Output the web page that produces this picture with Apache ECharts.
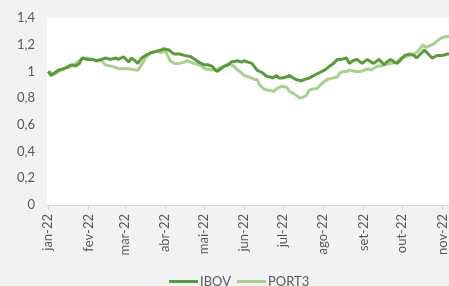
<!DOCTYPE html>
<html><head><meta charset="utf-8">
<script src="https://cdn.jsdelivr.net/npm/echarts@6/dist/echarts.min.js"></script>
<style>html,body{margin:0;padding:0;background:#f2f2f2}#c{width:449px;height:286px}</style>
</head><body><div id="c"></div>
<script>
const monthNames = ['jan','fev','mar','abr','mai','jun','jul','ago','set','out','nov','dez'];
const yTicks = [0, 0.2, 0.4, 0.6, 0.8, 1, 1.2, 1.4];

const ibovDates = ['2022-01-01','2022-01-03','2022-01-06','2022-01-09','2022-01-13','2022-01-17','2022-01-19','2022-01-22','2022-01-25','2022-01-27','2022-01-31','2022-02-04','2022-02-07','2022-02-11','2022-02-14','2022-02-18','2022-02-22','2022-02-24','2022-02-28','2022-03-04','2022-03-06','2022-03-09','2022-03-11','2022-03-14','2022-03-17','2022-03-21','2022-03-25','2022-03-29','2022-03-31','2022-04-04','2022-04-08','2022-04-12','2022-04-16','2022-04-21','2022-04-24','2022-04-27','2022-05-01','2022-05-04','2022-05-07','2022-05-09','2022-05-11','2022-05-14','2022-05-17','2022-05-20','2022-05-22','2022-05-27','2022-05-30','2022-06-01','2022-06-04','2022-06-07','2022-06-11','2022-06-15','2022-06-19','2022-06-21','2022-06-23','2022-06-26','2022-06-28','2022-06-30','2022-07-04','2022-07-06','2022-07-09','2022-07-11','2022-07-15','2022-07-18','2022-07-21','2022-07-25','2022-07-29','2022-08-02','2022-08-06','2022-08-09','2022-08-12','2022-08-15','2022-08-19','2022-08-21','2022-08-24','2022-08-27','2022-08-31','2022-09-04','2022-09-07','2022-09-09','2022-09-13','2022-09-17','2022-09-19','2022-09-22','2022-09-25','2022-09-27','2022-09-30','2022-10-03','2022-10-07','2022-10-10','2022-10-12','2022-10-15','2022-10-18','2022-10-21','2022-10-24','2022-10-26','2022-10-28','2022-11-01','2022-11-05','2022-11-08'];
const ibovValues = [1.00,0.97,0.99,1.01,1.02,1.04,1.05,1.04,1.06,1.10,1.09,1.09,1.08,1.09,1.10,1.09,1.10,1.09,1.11,1.07,1.10,1.08,1.06,1.10,1.12,1.14,1.15,1.16,1.17,1.16,1.13,1.13,1.12,1.11,1.09,1.07,1.05,1.05,1.04,1.02,1.00,1.02,1.04,1.05,1.07,1.08,1.07,1.08,1.07,1.06,1.01,0.99,0.96,0.96,0.95,0.97,0.95,0.95,0.96,0.97,0.95,0.94,0.93,0.94,0.95,0.97,0.99,1.01,1.04,1.06,1.09,1.09,1.10,1.06,1.08,1.09,1.06,1.09,1.07,1.06,1.09,1.05,1.07,1.09,1.07,1.06,1.09,1.12,1.13,1.12,1.10,1.13,1.16,1.13,1.10,1.11,1.12,1.12,1.13,1.13];

const port3Dates = ['2022-01-01','2022-01-03','2022-01-06','2022-01-09','2022-01-13','2022-01-17','2022-01-21','2022-01-25','2022-01-28','2022-01-31','2022-02-04','2022-02-07','2022-02-11','2022-02-14','2022-02-18','2022-02-22','2022-02-24','2022-02-28','2022-03-04','2022-03-09','2022-03-11','2022-03-14','2022-03-17','2022-03-21','2022-03-26','2022-03-29','2022-04-01','2022-04-05','2022-04-08','2022-04-12','2022-04-16','2022-04-18','2022-04-21','2022-04-23','2022-04-27','2022-04-29','2022-05-02','2022-05-07','2022-05-11','2022-05-14','2022-05-17','2022-05-20','2022-05-22','2022-05-24','2022-05-27','2022-05-30','2022-06-01','2022-06-04','2022-06-07','2022-06-09','2022-06-11','2022-06-13','2022-06-16','2022-06-19','2022-06-21','2022-06-24','2022-06-26','2022-06-28','2022-06-30','2022-07-04','2022-07-06','2022-07-10','2022-07-14','2022-07-17','2022-07-19','2022-07-21','2022-07-25','2022-07-27','2022-07-31','2022-08-04','2022-08-08','2022-08-12','2022-08-14','2022-08-17','2022-08-19','2022-08-21','2022-08-26','2022-08-30','2022-09-02','2022-09-05','2022-09-07','2022-09-12','2022-09-15','2022-09-17','2022-09-22','2022-09-27','2022-09-30','2022-10-03','2022-10-07','2022-10-10','2022-10-13','2022-10-17','2022-10-19','2022-10-20','2022-10-24','2022-10-26','2022-10-28','2022-10-31','2022-11-03','2022-11-05','2022-11-08'];
const port3Values = [1.00,0.99,0.98,1.00,1.02,1.03,1.05,1.08,1.10,1.10,1.09,1.08,1.08,1.05,1.04,1.03,1.02,1.02,1.02,1.01,1.01,1.05,1.10,1.14,1.15,1.14,1.16,1.08,1.06,1.06,1.07,1.08,1.07,1.06,1.05,1.04,1.02,1.01,1.01,1.03,1.04,1.06,1.05,1.04,1.01,0.99,0.97,0.96,0.95,0.94,0.94,0.90,0.87,0.86,0.86,0.85,0.87,0.88,0.89,0.88,0.85,0.83,0.80,0.81,0.82,0.86,0.87,0.87,0.91,0.94,0.95,0.96,0.99,1.00,1.00,1.01,1.00,1.00,1.01,1.02,1.01,1.04,1.04,1.05,1.06,1.07,1.10,1.11,1.12,1.13,1.15,1.20,1.18,1.17,1.20,1.21,1.23,1.25,1.26,1.26,1.27];

const pair = (d, v) => d.map((x, i) => [x, v[i]]);
const font = 'Lato, "Open Sans", sans-serif';
const chart = echarts.init(document.getElementById('c'), null, {renderer: 'canvas'});
chart.setOption({
  backgroundColor: '#f2f2f2',
  animation: false,
  textStyle: {fontFamily: font},
  grid: {left: 47, top: 18, bottom: 81, right: 0, show: true, backgroundColor: '#ffffff', borderWidth: 0, containLabel: false},
  legend: {
    bottom: -7, left: 164, itemWidth: 29, itemHeight: 3, itemGap: 6, icon: 'rect',
    textStyle: {color: '#595959', fontSize: 13, fontFamily: font, padding: [0, 0, 0, -3]},
    data: ['IBOV', 'PORT3']
  },
  xAxis: {
    type: 'time', min: '2021-12-31', max: '2022-11-06',
    minInterval: 28 * 86400000, maxInterval: 31 * 86400000,
    axisLine: {lineStyle: {color: '#d9d9d9', width: 1}},
    axisTick: {show: true, length: 5, lineStyle: {color: '#d9d9d9'}},
    splitLine: {show: false},
    axisLabel: {
      rotate: 90, margin: 9, color: '#595959', fontSize: 13, fontFamily: font,
      hideOverlap: false, showMinLabel: false,
      formatter: v => { const d = new Date(v); return monthNames[d.getMonth()] + '-22'; }
    }
  },
  yAxis: {
    type: 'value', min: yTicks[0], max: yTicks[yTicks.length - 1], interval: 0.2,
    axisLine: {show: false}, axisTick: {show: false}, splitLine: {show: false},
    axisLabel: {color: '#595959', fontSize: 13, margin: 12, fontFamily: font,
      formatter: v => String(Math.round(v * 10) / 10).replace('.', ',')}
  },
  series: [
    {name: 'IBOV', type: 'line', data: pair(ibovDates, ibovValues), showSymbol: false,
     lineStyle: {color: '#5b9a3b', width: 3}, itemStyle: {color: '#5b9a3b'}, z: 3},
    {name: 'PORT3', type: 'line', data: pair(port3Dates, port3Values), showSymbol: false,
     lineStyle: {color: '#a9d18e', width: 3}, itemStyle: {color: '#a9d18e'}, z: 2}
  ]
});
</script></body></html>
